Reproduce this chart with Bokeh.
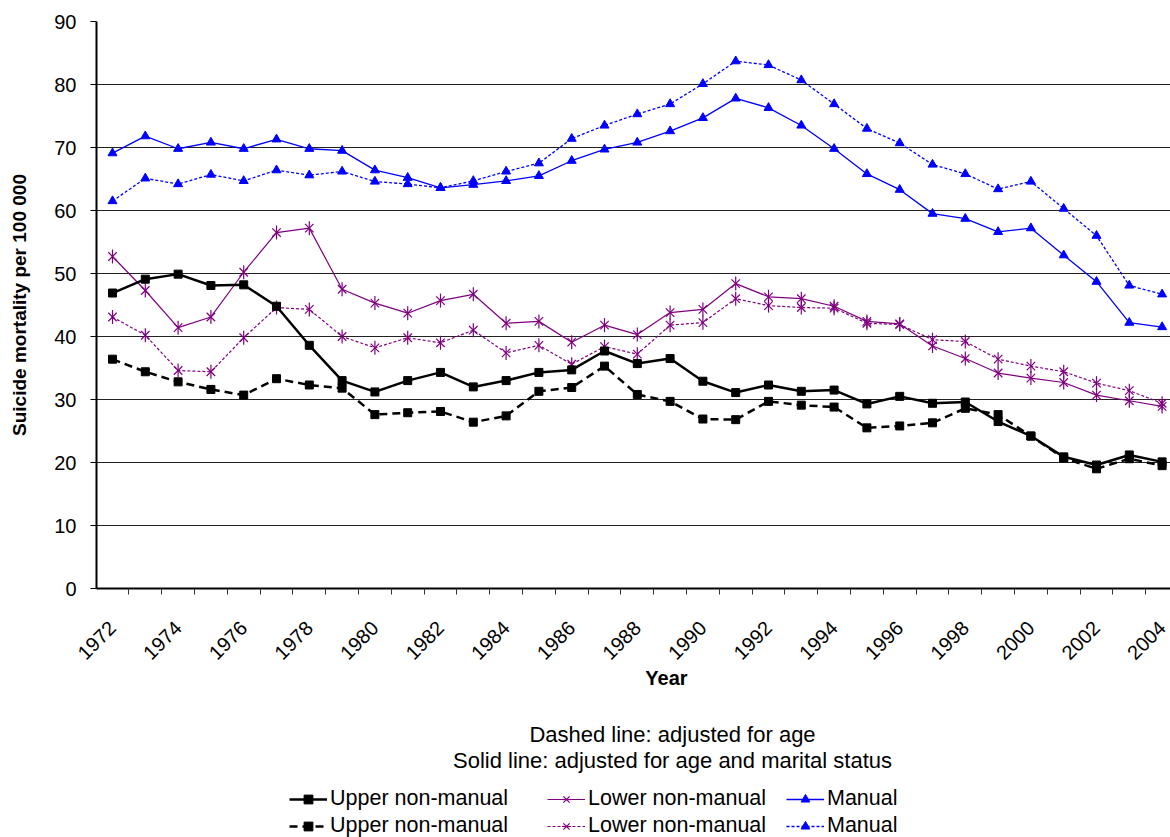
from math import pi
from bokeh.plotting import figure
from bokeh.layouts import column
from bokeh.models import FixedTicker, Legend, LegendItem, Label, Range1d
from bokeh.embed import file_html
from bokeh.resources import INLINE

years = list(range(1972, 2005))

upper_solid = [46.9, 49.1, 49.9, 48.1, 48.2, 44.8, 38.6, 33.0, 31.2, 33.0, 34.3,
               32.0, 33.0, 34.3, 34.7, 37.7, 35.7, 36.5, 32.9, 31.1, 32.3, 31.3,
               31.5, 29.3, 30.5, 29.4, 29.6, 26.5, 24.2, 20.9, 19.6, 21.2, 20.1]
upper_dashed = [36.4, 34.4, 32.8, 31.6, 30.7, 33.3, 32.3, 31.8, 27.6, 27.9, 28.1,
                26.4, 27.4, 31.3, 31.9, 35.3, 30.8, 29.7, 26.9, 26.8, 29.7, 29.1,
                28.8, 25.5, 25.8, 26.3, 28.6, 27.6, 24.2, 20.7, 19.0, 20.6, 19.5]
lower_solid = [52.7, 47.3, 41.4, 43.1, 50.2, 56.5, 57.2, 47.5, 45.3, 43.7, 45.7,
               46.7, 42.1, 42.4, 39.1, 41.8, 40.3, 43.8, 44.3, 48.4, 46.3, 46.0,
               44.8, 42.4, 42.0, 38.5, 36.5, 34.2, 33.4, 32.7, 30.7, 29.8, 28.9]
lower_dashed = [43.1, 40.2, 34.6, 34.4, 39.8, 44.6, 44.3, 40.0, 38.2, 39.8, 39.0,
                41.0, 37.4, 38.6, 35.6, 38.4, 37.2, 41.8, 42.2, 46.0, 44.9, 44.6,
                44.5, 42.1, 41.9, 39.5, 39.2, 36.4, 35.3, 34.4, 32.6, 31.4, 29.4]
manual_solid = [69.1, 71.8, 69.8, 70.8, 69.8, 71.3, 69.8, 69.5, 66.4, 65.2, 63.6,
                64.1, 64.7, 65.5, 67.9, 69.7, 70.8, 72.6, 74.7, 77.8, 76.3, 73.5,
                69.8, 65.8, 63.3, 59.5, 58.7, 56.6, 57.2, 52.9, 48.7, 42.2, 41.5]
manual_dashed = [61.5, 65.1, 64.2, 65.7, 64.7, 66.4, 65.6, 66.2, 64.6, 64.2, 63.6,
                 64.7, 66.2, 67.5, 71.4, 73.5, 75.3, 76.9, 80.1, 83.7, 83.1, 80.7,
                 76.9, 73.0, 70.7, 67.3, 65.8, 63.4, 64.6, 60.3, 56.0, 48.1, 46.7]

label_years = list(range(1972, 2005, 2))
y_ticks = list(range(0, 91, 10))
series_names = ["Upper non-manual", "Lower non-manual", "Manual"]

FONT = "Liberation Sans"
BLACK = "#000000"
PURPLE = "#800080"
BLUE = "#0000FF"
TXT = "#000000"

W = 1170
LEFT = 96
H_MAIN = 668
H_NOTE = 837 - H_MAIN

p = figure(width=W, height=H_MAIN, x_range=(1971.512, 2004.256), y_range=(0, 90),
           output_backend="svg", toolbar_location=None,
           min_border_left=LEFT, min_border_top=21, min_border_bottom=H_MAIN - 594,
           min_border_right=0)
p.outline_line_color = None

xa = p.xaxis[0]
xa.ticker = FixedTicker(ticks=label_years, minor_ticks=[y - 0.5 for y in years] + [2004.5])
xa.major_tick_out = 0
xa.major_tick_in = 0
xa.minor_tick_out = 6
xa.minor_tick_in = 0
xa.minor_tick_line_color = "#333333"
xa.axis_line_width = 2
xa.axis_line_color = BLACK
xa.major_label_orientation = pi / 4
xa.major_label_standoff = 30
xa.major_label_text_font = FONT
xa.major_label_text_font_size = "20px"
xa.major_label_text_color = TXT

ya = p.yaxis[0]
ya.ticker = FixedTicker(ticks=y_ticks)
ya.major_tick_out = 6
ya.major_tick_in = 0
ya.minor_tick_out = 0
ya.minor_tick_in = 0
ya.axis_line_width = 2
ya.axis_line_color = BLACK
ya.major_label_standoff = 14
ya.major_label_text_font = FONT
ya.major_label_text_font_size = "20px"
ya.major_label_text_color = TXT
ya.axis_label = "Suicide mortality per 100 000"
ya.axis_label_text_font = FONT
ya.axis_label_text_font_size = "19px"
ya.axis_label_text_font_style = "bold"
ya.axis_label_text_color = TXT
ya.axis_label_standoff = 21

p.xgrid.visible = False
p.ygrid.ticker = FixedTicker(ticks=y_ticks)
p.ygrid.grid_line_color = "#222222"
p.ygrid.grid_line_width = 1


def draw(fig, xs, ys, color, width, dash, kind):
    rends = [fig.line(xs, ys, line_color=color, line_width=width, line_dash=dash)]
    if kind == "square":
        rends.append(fig.scatter(xs, ys, marker="square", size=8, fill_color=color, line_color=color))
    elif kind == "triangle":
        rends.append(fig.scatter(xs, ys, marker="triangle", size=9, fill_color=color, line_color=color))
    else:
        rends.append(fig.scatter(xs, ys, marker="x", size=12, line_color=color, line_width=1.2))
        rends.append(fig.scatter(xs, ys, marker="dash", angle=pi / 2, size=14, line_color=color, line_width=1.2))
    return rends


styles = {
    "upper_solid": (BLACK, 2.5, "solid", "square"),
    "upper_dashed": (BLACK, 2.5, "8 5", "square"),
    "lower_solid": (PURPLE, 1.2, "solid", "star"),
    "lower_dashed": (PURPLE, 1.2, "3 2", "star"),
    "manual_solid": (BLUE, 1.3, "solid", "triangle"),
    "manual_dashed": (BLUE, 1.3, "3 2", "triangle"),
}
series = {
    "upper_solid": upper_solid, "upper_dashed": upper_dashed,
    "lower_solid": lower_solid, "lower_dashed": lower_dashed,
    "manual_solid": manual_solid, "manual_dashed": manual_dashed,
}
for key in ["manual_solid", "manual_dashed", "lower_solid", "lower_dashed",
            "upper_dashed", "upper_solid"]:
    draw(p, years, series[key], *styles[key])

# ---- notes and legend below the chart (data units here = page pixels) ----
p2 = figure(width=W, height=H_NOTE, x_range=Range1d(LEFT, W), y_range=Range1d(837, H_MAIN),
            x_axis_type=None, y_axis_type=None, output_backend="svg", toolbar_location=None,
            min_border=0, min_border_left=LEFT)
p2.outline_line_color = None
p2.grid.visible = False

p2.add_layout(Label(x=666, y=677, text="Year", text_font=FONT, text_font_size="20px",
                    text_font_style="bold", text_align="center", text_baseline="middle",
                    text_color=TXT))
p2.add_layout(Label(x=672, y=734, text="Dashed line: adjusted for age",
                    text_font=FONT, text_font_size="22px", text_align="center",
                    text_baseline="middle", text_color=TXT))
p2.add_layout(Label(x=672, y=760, text="Solid line: adjusted for age and marital status",
                    text_font=FONT, text_font_size="22px", text_align="center",
                    text_baseline="middle", text_color=TXT))

# legend: renderers here carry the real series but lie outside this panel's ranges
legend_rows = [["upper_solid", "lower_solid", "manual_solid"],
               ["upper_dashed", "lower_dashed", "manual_dashed"]]
col_x = [289, 547, 786]
row_bottom = [837 - 811, 837 - 838]
for r, row in enumerate(legend_rows):
    for c, key in enumerate(row):
        rends = draw(p2, years, series[key], *styles[key])
        leg = Legend(items=[LegendItem(label=series_names[c], renderers=rends)],
                     location=(col_x[c] - LEFT, row_bottom[r]), orientation="horizontal",
                     glyph_width=38, glyph_height=22, label_height=22,
                     label_standoff=3, padding=0, margin=0, spacing=0,
                     border_line_alpha=0, background_fill_alpha=0,
                     label_text_font=FONT, label_text_font_size="21.5px",
                     label_text_color=TXT)
        p2.add_layout(leg)

layout = column(p, p2, spacing=0)
open("out.html", "w").write(file_html(layout, INLINE))
